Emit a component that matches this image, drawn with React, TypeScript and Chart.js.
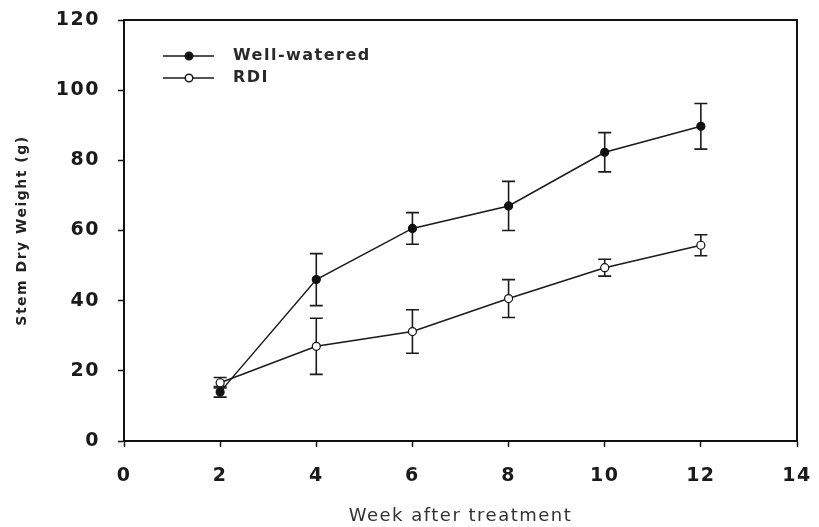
import React, { useEffect, useRef } from 'react';
import { Chart, registerables } from 'chart.js';
Chart.register(...registerables);

const weeks = [2, 4, 6, 8, 10, 12];
const wellWatered = [14, 46, 60.6, 67, 82.3, 89.7];
const wellWateredErr = [1.5, 7.4, 4.5, 7, 5.6, 6.5];
const rdi = [16.6, 27, 31.2, 40.6, 49.4, 55.8];
const rdiErr = [1.5, 8, 6.2, 5.4, 2.4, 3];
const seriesNames = ['Well-watered', 'RDI'];
const xTitle = 'Week after treatment';
const yTitle = 'Stem Dry Weight (g)';

const errors = [wellWateredErr, rdiErr];
const FONT = '"DejaVu Sans", Verdana, sans-serif';

const spacingPlugin = {
  id: 'spacing',
  beforeLayout(chart: any) {
    (chart.ctx as any).letterSpacing = '1.5px';
  },
  beforeDraw(chart: any) {
    (chart.ctx as any).letterSpacing = '1.5px';
  },
};

const errorBarPlugin = {
  id: 'errorBars',
  beforeDatasetsDraw(chart: any) {
    const ctx = chart.ctx;
    const xs = chart.scales.x;
    const ys = chart.scales.y;
    ctx.save();
    ctx.strokeStyle = '#1a1a1a';
    ctx.lineWidth = 1.6;
    chart.data.datasets.forEach((ds: any, i: number) => {
      ds.data.forEach((p: any, j: number) => {
        const e = errors[i][j];
        const x = xs.getPixelForValue(p.x);
        const y1 = ys.getPixelForValue(p.y + e);
        const y2 = ys.getPixelForValue(p.y - e);
        const cap = 6.5;
        ctx.beginPath();
        ctx.moveTo(x, y1);
        ctx.lineTo(x, y2);
        ctx.moveTo(x - cap, y1);
        ctx.lineTo(x + cap, y1);
        ctx.moveTo(x - cap, y2);
        ctx.lineTo(x + cap, y2);
        ctx.stroke();
      });
    });
    ctx.restore();
  },
};

const framePlugin = {
  id: 'frame',
  afterDraw(chart: any) {
    const { ctx, chartArea } = chart;
    ctx.save();
    ctx.strokeStyle = '#111';
    ctx.lineWidth = 2;
    ctx.beginPath();
    ctx.moveTo(chartArea.left, chartArea.top);
    ctx.lineTo(chartArea.right, chartArea.top);
    ctx.lineTo(chartArea.right, chartArea.bottom);
    ctx.stroke();
    ctx.restore();
  },
};

const legendPlugin = {
  id: 'customLegend',
  afterDraw(chart: any) {
    const { ctx, chartArea } = chart;
    ctx.save();
    chart.data.datasets.forEach((ds: any, i: number) => {
      const y = chartArea.top + 36 + i * 22;
      const x0 = chartArea.left + 39;
      ctx.strokeStyle = '#1a1a1a';
      ctx.lineWidth = 1.5;
      ctx.beginPath();
      ctx.moveTo(x0, y);
      ctx.lineTo(x0 + 51, y);
      ctx.stroke();
      ctx.beginPath();
      ctx.arc(x0 + 26, y, 3.8, 0, Math.PI * 2);
      ctx.fillStyle = ds.pointBackgroundColor;
      ctx.fill();
      ctx.stroke();
      ctx.fillStyle = '#2a2a2a';
      ctx.font = 'bold 16px ' + FONT;
      ctx.textBaseline = 'middle';
      ctx.textAlign = 'left';
      ctx.fillText(ds.label, x0 + 70, y);
    });
    ctx.restore();
  },
};

export default function App() {
  const ref = useRef<HTMLCanvasElement>(null);
  useEffect(() => {
    if (!ref.current) return;
    const tickFont = { family: FONT, size: 19, weight: 'bold' as const };
    const chart = new Chart(ref.current, {
      type: 'line',
      data: {
        datasets: [
          {
            label: seriesNames[0],
            data: weeks.map((w, i) => ({ x: w, y: wellWatered[i] })),
            borderColor: '#1a1a1a',
            borderWidth: 1.5,
            pointBackgroundColor: '#111',
            pointBorderColor: '#111',
            pointRadius: 4,
            pointBorderWidth: 1.2,
            pointStyle: 'circle',
          },
          {
            label: seriesNames[1],
            data: weeks.map((w, i) => ({ x: w, y: rdi[i] })),
            borderColor: '#1a1a1a',
            borderWidth: 1.5,
            pointBackgroundColor: '#fff',
            pointBorderColor: '#111',
            pointRadius: 4,
            pointBorderWidth: 1.2,
            pointStyle: 'circle',
          },
        ],
      },
      options: {
        animation: false,
        responsive: false,
        maintainAspectRatio: false,
        layout: { padding: { top: 20, right: 22, left: 0, bottom: 0 } },
        plugins: { legend: { display: false }, tooltip: { enabled: false } },
        scales: {
          x: {
            type: 'linear',
            min: 0,
            max: 14,
            ticks: { stepSize: 2, color: '#1a1a1a', font: tickFont, padding: 18, maxRotation: 0, autoSkip: false },
            grid: { drawOnChartArea: false, tickLength: 6, color: '#111', tickWidth: 1.5 },
            border: { color: '#111', width: 2 },
            title: {
              display: true,
              text: xTitle,
              color: '#333',
              font: { family: FONT, size: 18 },
              padding: { top: 10, bottom: 0 },
            },
            afterFit(scale: any) {
              scale.height = 86;
              scale.paddingLeft = 0;
              scale.paddingRight = 0;
            },
          },
          y: {
            min: 0,
            max: 120,
            ticks: { stepSize: 20, color: '#1a1a1a', font: tickFont, padding: 18 },
            grid: { drawOnChartArea: false, tickLength: 6, color: '#111', tickWidth: 1.5 },
            border: { color: '#111', width: 2 },
            title: {
              display: true,
              text: yTitle,
              color: '#222',
              font: { family: FONT, size: 14, weight: 'bold' },
              padding: { top: 14, bottom: 0 },
            },
            afterFit(scale: any) {
              scale.width = 124;
              scale.paddingTop = 0;
              scale.paddingBottom = 0;
            },
          },
        },
      },
      plugins: [spacingPlugin, errorBarPlugin, framePlugin, legendPlugin],
    });
    return () => chart.destroy();
  }, []);
  return (
    <div style={{ position: 'fixed', left: 0, top: 0, width: 819, height: 527, background: '#fff' }}>
      <canvas ref={ref} width={819} height={527} />
    </div>
  );
}
